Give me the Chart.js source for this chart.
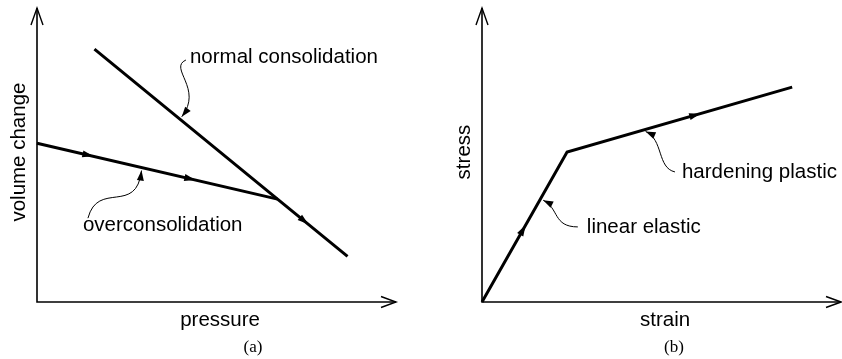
<!DOCTYPE html>
<html>
<head>
<meta charset="utf-8">
<script src="https://cdn.jsdelivr.net/npm/chart.js@4"></script>
<style>
  html, body { margin: 0; padding: 0; background: #fff; }
  #wrap { position: relative; width: 842px; height: 359px; }
  canvas { position: absolute; top: 0; }
  #chartA { left: 0; }
  #chartB { left: 421px; }
</style>
</head>
<body>
<div id="wrap">
  <canvas id="chartA" width="421" height="359"></canvas>
  <canvas id="chartB" width="421" height="359"></canvas>
</div>
<script>
// (a) volume change against pressure
const normalX = [1.6, 6.7, 8.65];
const normalY = [8.6, 3.5, 1.55];
const overX = [0, 6.7];
const overY = [5.4, 3.5];
const normalArrowX = [7.44];
const overArrowX = [1.42, 4.26];

// (b) stress against strain
const strainX = [0, 2.37, 8.64];
const stressY = [0, 5.1, 7.31];
const stressArrowX = [1.14, 5.93];

const SANS = '"Liberation Sans", Arial, Helvetica, sans-serif';
const SERIF = '"Liberation Serif", "Times New Roman", serif';

const toPoints = (xs, ys) => xs.map((x, i) => ({ x, y: ys[i] }));

// y value on a polyline at a given x
function yAt(xs, ys, x) {
  for (let i = 0; i < xs.length - 1; i++) {
    if (x >= xs[i] && x <= xs[i + 1]) {
      const t = (x - xs[i]) / (xs[i + 1] - xs[i]);
      return ys[i] + t * (ys[i + 1] - ys[i]);
    }
  }
  return ys[ys.length - 1];
}

function segmentAt(xs, x) {
  for (let i = 0; i < xs.length - 1; i++) {
    if (x >= xs[i] && x <= xs[i + 1]) return i;
  }
  return xs.length - 2;
}

// filled arrowhead with its tip at (x, y), pointing along (dx, dy)
function arrowHead(ctx, x, y, dx, dy, len, half) {
  const l = Math.hypot(dx, dy);
  const ux = dx / l, uy = dy / l;
  ctx.beginPath();
  ctx.moveTo(x, y);
  ctx.lineTo(x - ux * len - uy * half, y - uy * len + ux * half);
  ctx.lineTo(x - ux * len + uy * half, y - uy * len - ux * half);
  ctx.closePath();
  ctx.fill();
}

// axes with open arrows, direction marks, labelled callouts
const sketch = {
  id: "sketch",
  afterDatasetsDraw(chart, args, opts) {
    const { ctx, chartArea: a } = chart;
    const sx = chart.scales.x, sy = chart.scales.y;
    const px = v => sx.getPixelForValue(v);
    const py = v => sy.getPixelForValue(v);

    ctx.save();
    ctx.strokeStyle = "#000";
    ctx.fillStyle = "#000";

    // axes
    ctx.lineWidth = 1.6;
    ctx.beginPath();
    ctx.moveTo(a.left, a.top);
    ctx.lineTo(a.left, a.bottom);
    ctx.lineTo(a.right, a.bottom);
    ctx.stroke();
    ctx.lineWidth = 1.4;
    ctx.beginPath();
    ctx.moveTo(a.left - 6, a.top + 17);
    ctx.lineTo(a.left, a.top);
    ctx.lineTo(a.left + 6, a.top + 17);
    ctx.moveTo(a.right - 15, a.bottom - 5.5);
    ctx.lineTo(a.right, a.bottom);
    ctx.lineTo(a.right - 15, a.bottom + 5.5);
    ctx.stroke();

    // direction marks along the paths
    opts.arrows.forEach(p => {
      p.at.forEach(x => {
        const i = segmentAt(p.xs, x);
        const dx = px(p.xs[i + 1]) - px(p.xs[i]);
        const dy = py(p.ys[i + 1]) - py(p.ys[i]);
        const l = Math.hypot(dx, dy);
        const cx = px(x), cy = py(yAt(p.xs, p.ys, x));
        arrowHead(ctx, cx + dx / l * 5.5, cy + dy / l * 5.5, dx, dy, 11, 3.5);
      });
    });

    // callouts: label, wavy leader, arrowhead at the line
    ctx.font = `20.5px ${SANS}`;
    ctx.textAlign = "left";
    ctx.textBaseline = "alphabetic";
    opts.callouts.forEach(c => {
      const lx = px(c.tx), ly = py(c.ty);
      ctx.fillText(c.text, lx, ly);

      const tailX = lx + c.tail[0], tailY = ly + c.tail[1];
      const lineX = px(c.tipX), lineY = py(yAt(c.path.xs, c.path.ys, c.tipX));
      const cl = Math.hypot(c.c2[0], c.c2[1]);
      const tipX = lineX + c.c2[0] / cl * 3, tipY = lineY + c.c2[1] / cl * 3;

      ctx.lineWidth = 1;
      ctx.beginPath();
      ctx.moveTo(tailX, tailY);
      ctx.bezierCurveTo(
        tailX + c.c1[0], tailY + c.c1[1],
        tipX + c.c2[0], tipY + c.c2[1],
        tipX, tipY
      );
      ctx.stroke();
      arrowHead(ctx, tipX, tipY, -c.c2[0], -c.c2[1], 10, 3.5);
    });

    // axis titles
    ctx.textAlign = "center";
    ctx.fillText(opts.xTitle, px(opts.xTitleAt), a.bottom + 24);
    ctx.save();
    ctx.translate(a.left - 12, py(opts.yTitleAt));
    ctx.rotate(-Math.PI / 2);
    ctx.fillText(opts.yTitle, 0, 0);
    ctx.restore();

    // panel caption
    ctx.font = `17px ${SERIF}`;
    ctx.fillText(opts.caption, 253, 352);
    ctx.restore();
  }
};

function pathSet(xs, ys) {
  return {
    data: toPoints(xs, ys),
    borderColor: "#000",
    borderWidth: 3,
    pointRadius: 0,
    fill: false,
    tension: 0,
    borderJoinStyle: "miter",
    clip: false
  };
}

function makeChart(id, datasets, padding, sketchOpts) {
  return new Chart(document.getElementById(id), {
    type: "line",
    data: { datasets },
    options: {
      responsive: false,
      animation: false,
      layout: { padding },
      scales: {
        x: { type: "linear", min: 0, max: 10, display: false },
        y: { type: "linear", min: 0, max: 10, display: false }
      },
      plugins: {
        legend: { display: false },
        tooltip: { enabled: false },
        sketch: sketchOpts
      }
    },
    plugins: [sketch]
  });
}

const normalPath = { xs: normalX, ys: normalY };
const overPath = { xs: overX, ys: overY };
const stressPath = { xs: strainX, ys: stressY };

makeChart(
  "chartA",
  [pathSet(normalX, normalY), pathSet(overX, overY)],
  { left: 37, right: 25, top: 8, bottom: 57 },
  {
    xTitle: "pressure", xTitleAt: 5.1,
    yTitle: "volume change", yTitleAt: 5.1,
    caption: "(a)",
    arrows: [
      { ...normalPath, at: normalArrowX },
      { ...overPath, at: overArrowX }
    ],
    callouts: [
      { text: "normal consolidation", tx: 4.26, ty: 8.13, tail: [-4, -3],
        c1: [-18, 8], c2: [22, -28], path: normalPath, tipX: 3.98 },
      { text: "overconsolidation", tx: 1.28, ty: 2.41, tail: [5, -13],
        c1: [10, -38], c2: [-5, 45], path: overPath, tipX: 2.92 }
    ]
  }
);

makeChart(
  "chartB",
  [pathSet(strainX, stressY)],
  { left: 61, right: 1, top: 8, bottom: 57 },
  {
    xTitle: "strain", xTitleAt: 5.1,
    yTitle: "stress", yTitleAt: 5.1,
    caption: "(b)",
    arrows: [{ ...stressPath, at: stressArrowX }],
    callouts: [
      { text: "hardening plastic", tx: 5.57, ty: 4.22, tail: [-7, -6],
        c1: [-18, -4], c2: [18, 8], path: stressPath, tipX: 4.48 },
      { text: "linear elastic", tx: 2.92, ty: 2.35, tail: [-9, -6],
        c1: [-25, 0], c2: [16, 8], path: stressPath, tipX: 1.63 }
    ]
  }
);
</script>
</body>
</html>
